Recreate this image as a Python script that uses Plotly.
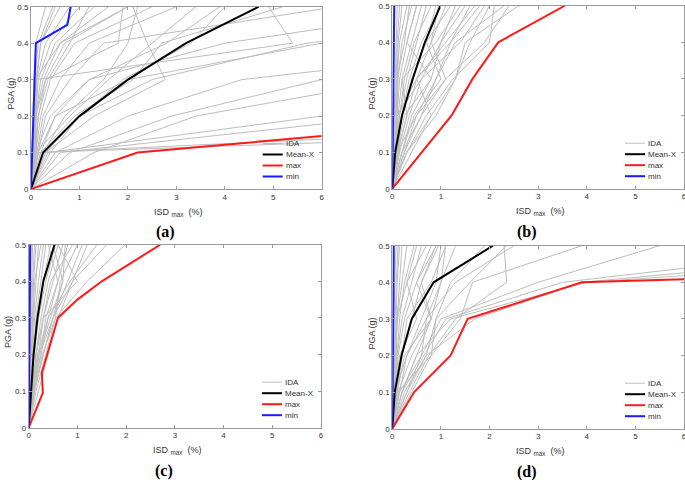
import plotly.graph_objects as go

# ---------------- data ----------------
PGA = [0, 0.1, 0.2, 0.3, 0.4, 0.5]

# IDA curves: ISDmax (%) at each PGA level
ida_a = [
    [0, 0.02, 0.04, 0.06, 0.10, 0.30],
    [0, 0.03, 0.05, 0.08, 0.15, 0.45],
    [0, 0.04, 0.07, 0.10, 0.20, 0.60],
    [0, 0.05, 0.08, 0.12, 0.30, 0.80],
    [0, 0.06, 0.10, 0.15, 0.40, 1.00],
    [0, 0.08, 0.10, 0.20, 0.50, 1.30],
    [0, 0.10, 0.10, 0.25, 0.60, 1.60],
    [0, 0.10, 0.15, 0.30, 0.70, 2.00],
    [0, 0.10, 0.20, 0.40, 0.90, 2.50],
    [0, 0.12, 0.25, 0.60, 1.20, 3.00],
    [0, 0.15, 0.30, 0.80, 1.50, 6.30],
    [0, 0.10, 0.40, 1.20, 4.00, 9.00],
    [0, 0.05, 0.08, 0.10, 5.40, 4.90],
    [0, 0.15, 0.50, 2.00, 6.00, 9.00],
    [0, 0.30, 1.00, 2.50, 5.70, 12.0],
    [0, 0.50, 2.00, 4.35, 11.0, 15.0],
    [0, 0.80, 2.90, 6.00, 12.0, 15.0],
    [0, 1.30, 3.40, 8.00, 12.0, 16.0],
    [0, 0.35, 6.00, 12.0, 16.0, 20.0],
    [0, 0.60, 7.50, 14.0, 18.0, 22.0],
    [0, 0.30, 1.30, 2.77, 2.40, 2.10],
    [0, 0.20, 0.50, 1.20, 2.80, 3.90],
    [0, 0.25, 0.70, 1.50, 2.00, 2.20],
    [0, 0.40, 1.00, 1.90, 3.30, 4.00],
    [0, 0.10, 0.80, 1.60, 2.50, 3.40],
    [0, 0.05, 0.10, 0.10, 0.60, 2.00],
    [0, 0.10, 0.10, 0.30, 1.80, 1.90],
    [0, 0.07, 0.10, 0.12, 0.20, 0.50],
    [0, 0.20, 0.90, 2.10, 2.70, 5.20],
    [0, 0.08, 0.15, 0.35, 0.80, 1.20],
    [0, 0.10, 22.0, 30.0, 35.0, 40.0],
    [0, 0.15, 16.0, 25.0, 30.0, 35.0],
]
ida_b = [
    [0, 0.02, 0.04, 0.06, 0.08, 0.10],
    [0, 0.03, 0.06, 0.08, 0.10, 0.15],
    [0, 0.04, 0.08, 0.10, 0.12, 0.20],
    [0, 0.05, 0.10, 0.10, 0.15, 0.30],
    [0, 0.05, 0.10, 0.12, 0.20, 0.40],
    [0, 0.06, 0.10, 0.15, 0.30, 0.50],
    [0, 0.08, 0.12, 0.20, 0.40, 0.60],
    [0, 0.10, 0.15, 0.30, 0.50, 0.70],
    [0, 0.10, 0.20, 0.40, 0.70, 0.90],
    [0, 0.12, 0.30, 0.50, 0.80, 1.10],
    [0, 0.15, 0.35, 0.60, 1.00, 1.30],
    [0, 0.20, 0.40, 0.80, 1.00, 1.50],
    [0, 0.25, 0.50, 0.90, 1.20, 1.80],
    [0, 0.30, 0.90, 1.30, 1.60, 2.00],
    [0, 0.30, 0.70, 1.25, 2.00, 2.10],
    [0, 0.40, 0.80, 1.30, 1.50, 2.60],
    [0, 0.20, 0.60, 1.10, 1.90, 2.40],
    [0, 0.15, 0.10, 0.50, 1.20, 1.60],
    [0, 0.10, 0.30, 0.20, 0.90, 1.40],
    [0, 0.20, 0.45, 1.00, 0.70, 1.20],
    [0, 0.05, 0.10, 0.60, 1.40, 1.90],
    [0, 0.08, 0.25, 0.80, 0.30, 0.50],
    [0, 0.30, 0.80, 0.50, 1.10, 1.70],
    [0, 0.10, 0.50, 1.10, 0.80, 0.95],
    [0, 0.12, 0.20, 0.35, 0.60, 1.00],
    [0, 0.07, 0.15, 0.25, 0.45, 0.80],
    [0, 0.25, 0.60, 0.90, 1.30, 2.30],
    [0, 0.04, 0.06, 0.10, 0.25, 0.35],
]
ida_c = [
    [0, 0.01, 0.02, 0.03, 0.04, 0.05],
    [0, 0.02, 0.03, 0.04, 0.06, 0.08],
    [0, 0.02, 0.04, 0.06, 0.08, 0.12],
    [0, 0.03, 0.05, 0.08, 0.10, 0.15],
    [0, 0.03, 0.06, 0.10, 0.15, 0.20],
    [0, 0.04, 0.08, 0.12, 0.20, 0.30],
    [0, 0.05, 0.10, 0.15, 0.25, 0.35],
    [0, 0.05, 0.12, 0.20, 0.30, 0.45],
    [0, 0.06, 0.15, 0.25, 0.40, 0.60],
    [0, 0.08, 0.20, 0.30, 0.50, 0.70],
    [0, 0.10, 0.25, 0.40, 0.60, 0.80],
    [0, 0.12, 0.30, 0.50, 0.90, 1.20],
    [0, 0.15, 0.35, 0.55, 1.20, 1.98],
    [0, 0.20, 0.40, 0.60, 0.90, 1.60],
    [0, 0.10, 0.30, 0.50, 0.80, 1.10],
    [0, 0.08, 0.20, 0.45, 0.70, 0.50],
    [0, 0.07, 0.25, 0.35, 0.60, 0.40],
    [0, 0.10, 0.15, 0.30, 0.45, 0.90],
    [0, 0.04, 0.10, 0.20, 0.35, 0.55],
    [0, 0.06, 0.18, 0.40, 0.85, 1.40],
    [0, 0.09, 0.22, 0.50, 0.70, 0.75],
    [0, 0.02, 0.05, 0.09, 0.12, 0.25],
    [0, 0.05, 0.15, 0.30, 1.00, 0.60],
    [0, 0.12, 0.28, 0.55, 0.65, 1.00],
]
ida_d = [
    [0, 0.01, 0.02, 0.03, 0.05, 0.08],
    [0, 0.02, 0.03, 0.05, 0.08, 0.12],
    [0, 0.02, 0.05, 0.08, 0.10, 0.15],
    [0, 0.03, 0.06, 0.10, 0.15, 0.20],
    [0, 0.04, 0.08, 0.10, 0.20, 0.30],
    [0, 0.05, 0.10, 0.15, 0.25, 0.45],
    [0, 0.05, 0.10, 0.20, 0.40, 0.60],
    [0, 0.06, 0.12, 0.25, 0.50, 0.80],
    [0, 0.10, 0.20, 0.40, 0.60, 0.90],
    [0, 0.15, 0.30, 0.60, 0.90, 1.00],
    [0, 0.20, 0.50, 0.80, 1.00, 1.30],
    [0, 0.30, 0.70, 0.90, 1.60, 2.35],
    [0, 0.35, 0.75, 1.30, 2.35, 2.30],
    [0, 0.30, 0.60, 1.00, 3.00, 5.50],
    [0, 0.25, 0.70, 1.70, 3.90, 12.0],
    [0, 0.20, 0.50, 1.20, 4.00, 15.0],
    [0, 0.40, 0.80, 1.40, 1.65, 3.90],
    [0, 0.10, 0.80, 0.90, 1.20, 1.90],
    [0, 0.10, 0.25, 0.80, 0.50, 0.90],
    [0, 0.05, 0.15, 0.50, 0.30, 0.70],
    [0, 0.15, 0.60, 0.70, 1.30, 2.50],
    [0, 0.08, 0.20, 0.30, 0.80, 1.10],
    [0, 0.12, 0.40, 0.80, 0.60, 0.95],
    [0, 0.03, 0.05, 0.10, 0.30, 0.50],
    [0, 0.20, 0.65, 1.10, 3.50, 10.0],
    [0, 0.06, 0.30, 0.70, 1.00, 1.10],
]

mean_a = [0, 0.25, 1.00, 2.00, 3.20, 4.70]
mean_b = [0, 0.06, 0.20, 0.42, 0.67, 0.99]
mean_c = [0, 0.05, 0.10, 0.18, 0.30, 0.53]
mean_d = [0, 0.05, 0.19, 0.40, 0.85, 2.07]

max_a_x = [0, 2.20, 10.6, 20.0, 25.0, 30.0]
max_a_y = [0, 0.10, 0.20, 0.30, 0.40, 0.50]
max_b_x = [0, 0.61, 1.22, 1.65, 2.18, 3.55]
max_b_y = [0, 0.10, 0.20, 0.30, 0.40, 0.50]
max_c_x = [0, 0.29, 0.27, 0.60, 1.00, 1.50, 2.70]
max_c_y = [0, 0.095, 0.15, 0.30, 0.35, 0.40, 0.50]
max_d_x = [0, 0.45, 1.20, 1.55, 3.90, 30.0]
max_d_y = [0, 0.10, 0.20, 0.30, 0.40, 0.50]

min_a_x = [0, 0.025, 0.05, 0.075, 0.10, 0.75, 0.82]
min_a_y = [0, 0.10, 0.20, 0.30, 0.40, 0.45, 0.50]
min_b_x = [0, 0.01, 0.02, 0.03, 0.035, 0.04]
min_c_x = [0, 0.01, 0.015, 0.02, 0.025, 0.03]
min_d_x = [0, 0.01, 0.015, 0.02, 0.025, 0.03]

panel_labels = ["(a)", "(b)", "(c)", "(d)"]
legend_names = ["IDA", "Mean-X", "max", "min"]
x_title = "ISD <sub>max</sub>  (%)"
y_title = "PGA (g)"

# ---------------- figure ----------------
W, H = 685, 480
fig = go.Figure()

# pixel boxes of the four axes (left, right, top, bottom)
boxes = [
    (31, 321.7, 6.7, 189),
    (392.3, 684, 5.7, 188.7),
    (28.7, 321, 244.7, 427.7),
    (392.3, 684, 245.7, 428.7),
]

GRAY = "#bdbdbd"
RED = "#ff1a1a"
BLUE = "#1a1aff"
legend_colors = [GRAY, "black", RED, BLUE]
legend_widths = [1, 2, 2, 2]

panels = [
    (ida_a, mean_a, (max_a_x, max_a_y), (min_a_x, min_a_y)),
    (ida_b, mean_b, (max_b_x, max_b_y), (min_b_x, PGA)),
    (ida_c, mean_c, (max_c_x, max_c_y), (min_c_x, PGA)),
    (ida_d, mean_d, (max_d_x, max_d_y), (min_d_x, PGA)),
]

for i, (ida, mean, mx, mn) in enumerate(panels):
    xa = "x" if i == 0 else f"x{i+1}"
    ya = "y" if i == 0 else f"y{i+1}"
    for k, curve in enumerate(ida):
        fig.add_trace(go.Scatter(
            x=curve, y=PGA, mode="lines", xaxis=xa, yaxis=ya,
            line=dict(color=GRAY, width=1), name=legend_names[0],
            showlegend=False, hoverinfo="skip"))
    fig.add_trace(go.Scatter(x=mean, y=PGA, mode="lines", xaxis=xa, yaxis=ya,
                             line=dict(color="black", width=2), name=legend_names[1],
                             showlegend=False))
    fig.add_trace(go.Scatter(x=mx[0], y=mx[1], mode="lines", xaxis=xa, yaxis=ya,
                             line=dict(color=RED, width=2), name=legend_names[2],
                             showlegend=False))
    fig.add_trace(go.Scatter(x=mn[0], y=mn[1], mode="lines", xaxis=xa, yaxis=ya,
                             line=dict(color=BLUE, width=2), name=legend_names[3],
                             showlegend=False))

axis_common = dict(showgrid=False, zeroline=False, showline=True, linecolor="#9a9a9a",
                   linewidth=1, mirror="ticks", ticks="inside", ticklen=3,
                   tickcolor="#9a9a9a", ticklabeloverflow="allow",
                   tickfont=dict(size=8, color="#333333", family="Liberation Sans"))

annotations = []
shapes = []
layout = dict(
    width=W, height=H, margin=dict(l=0, r=0, t=0, b=0, autoexpand=False),
    paper_bgcolor="white", plot_bgcolor="white",
    font=dict(family="Liberation Sans", color="#333333"),
    showlegend=False,
)

for i, (l, r, t, b) in enumerate(boxes):
    sx = "" if i == 0 else str(i + 1)
    layout[f"xaxis{sx}"] = dict(domain=[l / W, r / W], range=[0, 6], dtick=1,
                                anchor=f"y{sx}", **axis_common)
    layout[f"yaxis{sx}"] = dict(domain=[1 - b / H, 1 - t / H], range=[0, 0.5], dtick=0.1,
                                anchor=f"x{sx}", **axis_common)
    cx = (l + r) / 2
    # x axis title
    annotations.append(dict(
        text=x_title, x=(cx + 2) / W, y=1 - (b + 23) / H, xref="paper", yref="paper",
        showarrow=False, font=dict(size=9, color="#333333"), xanchor="center", yanchor="middle"))
    # y axis title
    annotations.append(dict(
        text=y_title, x=(l - 20) / W, y=1 - ((t + b) / 2 - 4) / H, xref="paper", yref="paper",
        showarrow=False, textangle=-90, font=dict(size=9, color="#333333"),
        xanchor="center", yanchor="middle"))
    # panel label
    annotations.append(dict(
        text="<b>" + panel_labels[i] + "</b>", x=(cx - 11) / W, y=1 - (b + 43) / H,
        xref="paper", yref="paper", showarrow=False,
        font=dict(size=16, color="black", family="Liberation Serif"),
        xanchor="center", yanchor="middle"))
    # legend (drawn inside each panel)
    for j, name in enumerate(legend_names):
        ry = b - 45.5 + 11 * j
        shapes.append(dict(type="line", xref="paper", yref="paper",
                           x0=(r - 59) / W, x1=(r - 39) / W, y0=1 - ry / H, y1=1 - ry / H,
                           line=dict(color=legend_colors[j], width=legend_widths[j])))
        annotations.append(dict(
            text=name, x=(r - 38) / W, y=1 - ry / H, xref="paper", yref="paper",
            showarrow=False, font=dict(size=8, color="#333333"),
            xanchor="left", yanchor="middle"))

layout["annotations"] = annotations
layout["shapes"] = shapes
fig.update_layout(**layout)
fig.write_html("out.html", config={"displayModeBar": False},
               post_script="document.body.style.margin='0';")
